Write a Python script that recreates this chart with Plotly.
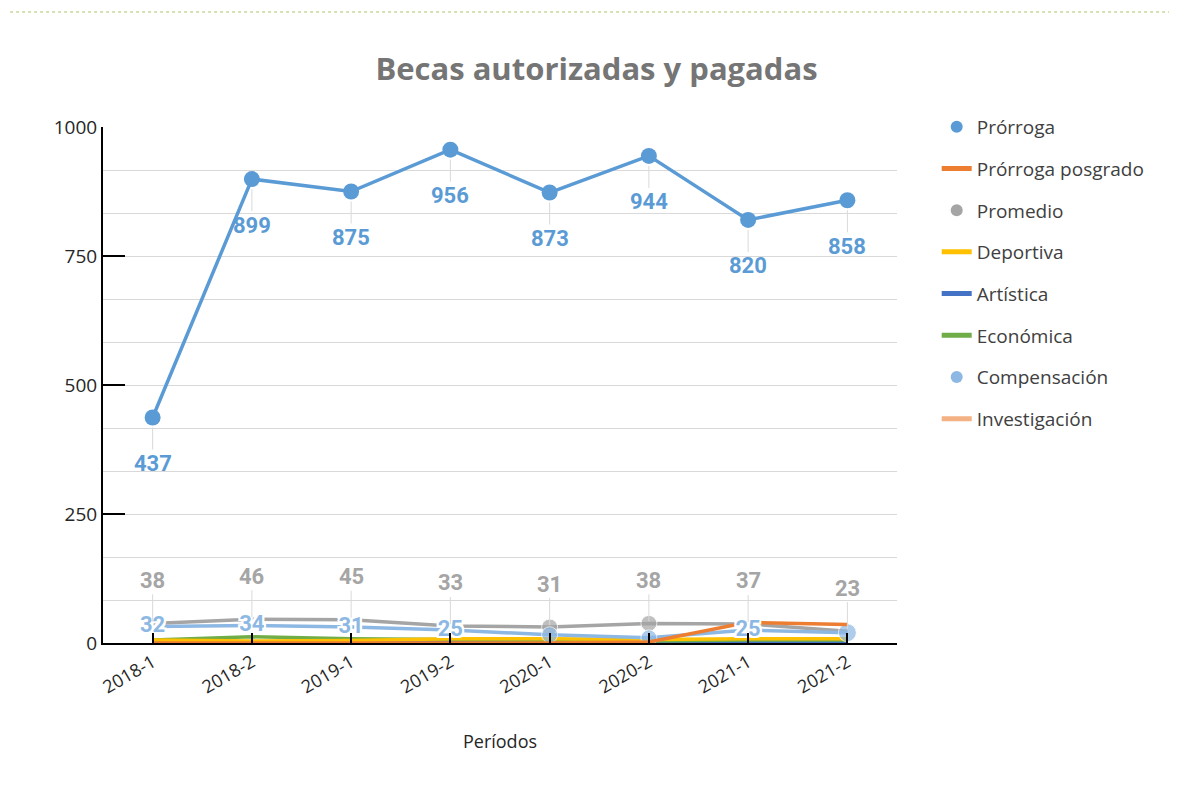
import plotly.graph_objects as go

periods = ["2018-1", "2018-2", "2019-1", "2019-2", "2020-1", "2020-2", "2021-1", "2021-2"]
prorroga = [437, 899, 875, 956, 873, 944, 820, 858]
prorroga_posgrado = [0, 0, 0, 0, 0, 2, 40, 36]
promedio = [38, 46, 45, 33, 31, 38, 37, 23]
deportiva = [6, 4, 5, 8, 8, 7, 8, 8]
artistica = [1, 1, 1, 1, 1, 1, 1, 1]
economica = [6, 12, 8, 7, 6, 4, 6, 6]
compensacion = [32, 34, 31, 25, 16, 10, 25, 20]
investigacion = [1, 1, 1, 2, 3, 3, 2, 2]
compensacion_labels = ["32", "34", "31", "25", "", "", "25", ""]

C_PRO = "#5B9BD5"
C_POS = "#ED7D31"
C_PROM = "#A5A5A5"
C_DEP = "#FFC000"
C_ART = "#4472C4"
C_ECO = "#70AD47"
C_COMP = "#8DB8E3"
C_INV = "#F4B183"

FONT = "Open Sans"
fig = go.Figure()

def line(y, color, name, width=3.5, msize=None):
    mode = "lines" if msize is None else "lines+markers"
    kw = {}
    if msize is not None:
        kw["marker"] = dict(size=msize, color=color)
    fig.add_trace(go.Scatter(x=periods, y=y, mode=mode, name=name,
                             line=dict(color=color, width=width),
                             showlegend=False, **kw))

line(investigacion, C_INV, "Investigación")
line(artistica, C_ART, "Artística")
line(economica, C_ECO, "Económica")
line(deportiva, C_DEP, "Deportiva")
line(promedio, C_PROM, "Promedio", msize=[0, 0, 0, 0, 16, 16, 0, 0])
line(compensacion, C_COMP, "Compensación", msize=[0, 0, 0, 0, 16, 16, 0, 18])
line(prorroga_posgrado, C_POS, "Prórroga posgrado")
line(prorroga, C_PRO, "Prórroga", msize=16)

# Compensación labels centered on points with white halo
fig.add_trace(go.Scatter(
    x=periods, y=compensacion, mode="text", text=compensacion_labels,
    textposition="middle center", showlegend=False, hoverinfo="skip",
    textfont=dict(family="Roboto", size=22, color=C_COMP, weight="bold",
                  shadow="-2px -2px 0 #fff, 2px -2px 0 #fff, -2px 2px 0 #fff, 2px 2px 0 #fff, 0 2px 0 #fff, 0 -2px 0 #fff, 2px 0 0 #fff, -2px 0 0 #fff"),
))

# legend entries
legend_items = [
    ("Prórroga", C_PRO, "markers"),
    ("Prórroga posgrado", C_POS, "lines"),
    ("Promedio", C_PROM, "markers"),
    ("Deportiva", C_DEP, "lines"),
    ("Artística", C_ART, "lines"),
    ("Económica", C_ECO, "lines"),
    ("Compensación", C_COMP, "markers"),
    ("Investigación", C_INV, "lines"),
]
for i, (name, color, mode) in enumerate(legend_items):
    fig.add_trace(go.Scatter(
        x=[None], y=[None], mode=mode, name=name, legendgroup=str(i),
        marker=dict(size=22, color=color), line=dict(color=color, width=6),
    ))

annotations = []
for p, v in zip(periods, prorroga):
    annotations.append(dict(x=p, y=v, xref="x", yref="y", text=f"<b>{v}</b>",
                            showarrow=True, ax=0, ay=46, arrowhead=0, arrowwidth=1,
                            arrowcolor="#D9D9D9", standoff=10,
                            font=dict(family="Roboto", size=22, color=C_PRO)))
for p, v in zip(periods, promedio):
    annotations.append(dict(x=p, y=v, xref="x", yref="y", text=f"<b>{v}</b>",
                            showarrow=True, ax=0, ay=-43, arrowhead=0, arrowwidth=1,
                            arrowcolor="#D9D9D9", standoff=2,
                            font=dict(family="Roboto", size=22, color=C_PROM)))

fig.update_layout(
    width=1177, height=787,
    margin=dict(l=95, r=288, t=119, b=152),
    paper_bgcolor="white", plot_bgcolor="white",
    title=dict(text="<b>Becas autorizadas y pagadas</b>", x=0.5, xanchor="center",
               y=0.922, yanchor="middle",
               font=dict(family=FONT, size=31, color="#757575")),
    showlegend=True,
    legend=dict(x=1.05, xanchor="left", y=1.037, yanchor="top",
                font=dict(family=FONT, size=19, color="#404040"),
                tracegroupgap=14, itemsizing="constant", traceorder="grouped",
                itemwidth=30),
    annotations=annotations,
    shapes=[dict(type="line", xref="paper", yref="paper",
                 x0=-0.117, x1=1.36, y0=1.2229, y1=1.2229,
                 line=dict(color="#A9C46A", width=1, dash="dot"))],
)
fig.update_xaxes(
    type="category", range=[-0.5, 7.5],
    showline=True, linecolor="black", linewidth=2,
    ticks="inside", ticklen=10, tickcolor="black", tickwidth=2,
    tickangle=-30, tickfont=dict(family=FONT, size=18, color="#262626"),
    title=dict(text="Períodos", font=dict(family=FONT, size=18, color="#262626"),
               standoff=38),
    showgrid=False, layer="above traces",
)
fig.update_yaxes(
    range=[0, 1000], tickvals=[0, 250, 500, 750, 1000],
    showline=True, linecolor="black", linewidth=2,
    ticks="inside", ticklen=22, tickcolor="black", tickwidth=2,
    tickfont=dict(family=FONT, size=19, color="#262626"),
    showgrid=True, gridcolor="#D9D9D9", gridwidth=1,
    minor=dict(dtick=250 / 3, tick0=0, showgrid=True, gridcolor="#D9D9D9", gridwidth=1),
    zeroline=False,
)

fig.write_html("out.html")
